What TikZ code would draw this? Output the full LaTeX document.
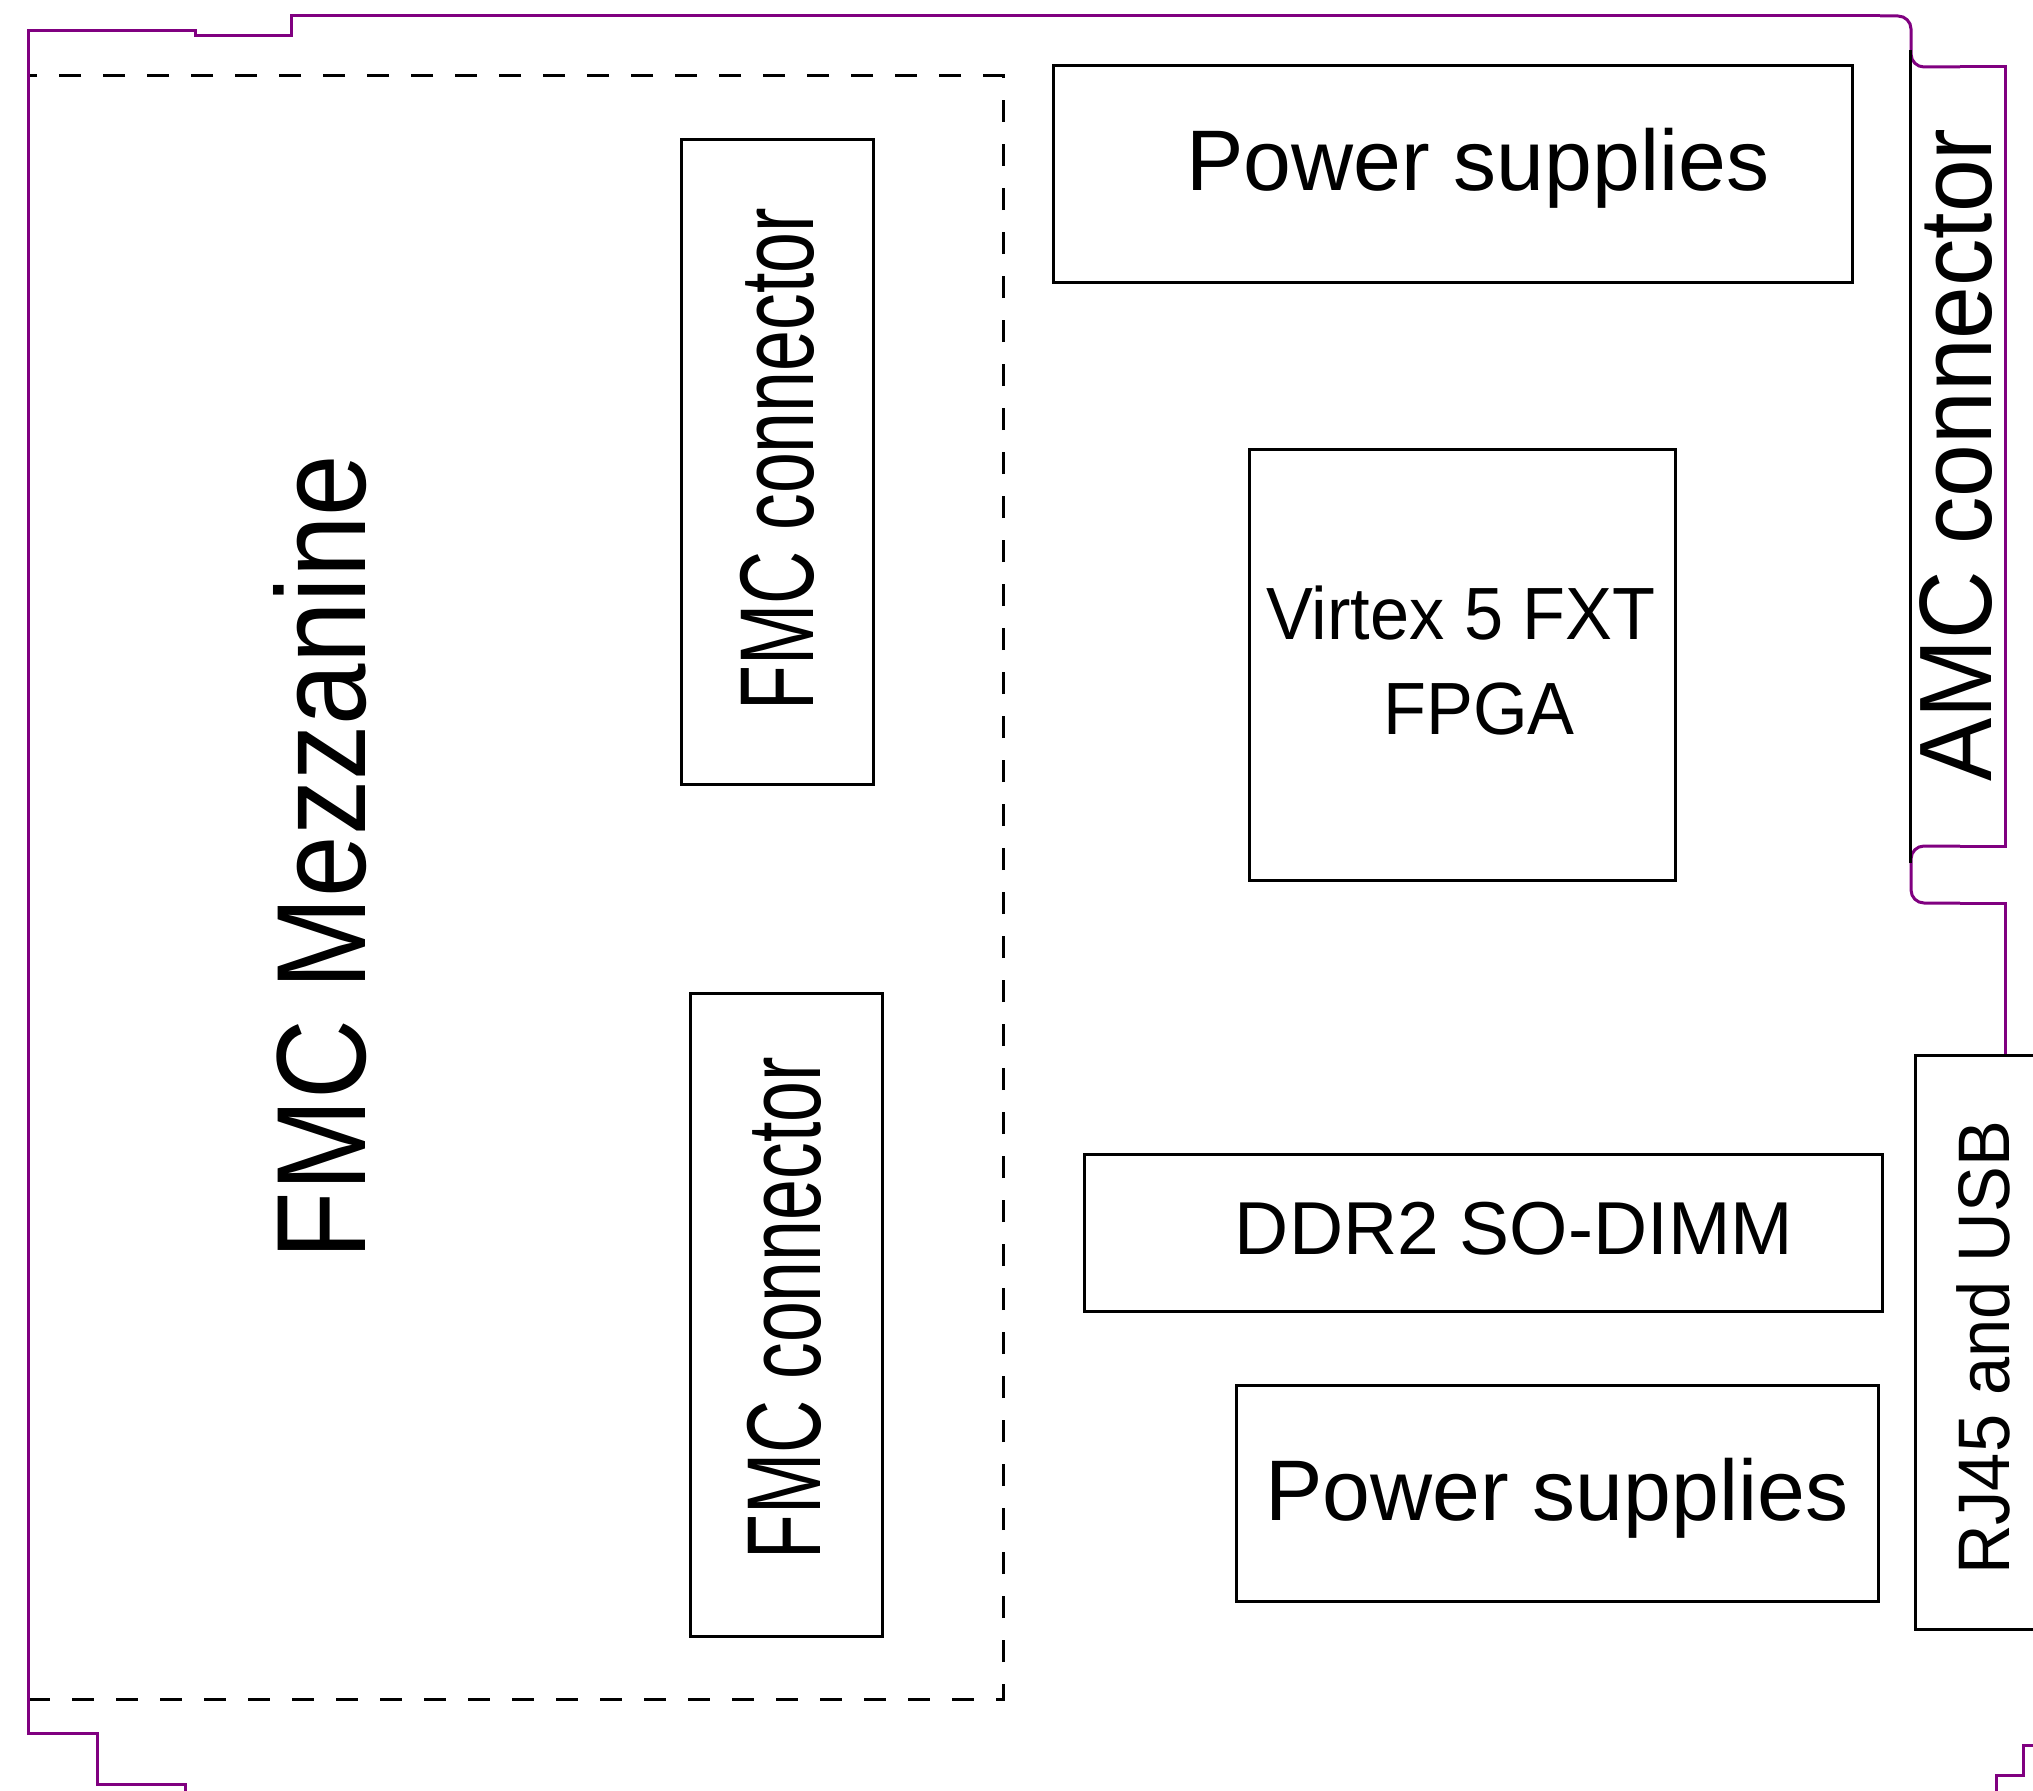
\documentclass[tikz,border=0pt]{standalone}
\usepackage{fontspec}
\setmainfont{Liberation Sans}
\usetikzlibrary{fit}
\definecolor{boardpurple}{RGB}{128,0,128}
\begin{document}
\begin{tikzpicture}[x=1pt,y=-1pt,
  box/.style={draw=black, line width=3pt, inner sep=0pt, outer sep=0pt, rectangle},
  areabox/.style={draw=black, line width=3pt, dash pattern=on 22pt off 22pt, inner sep=0pt, outer sep=0pt, rectangle},
  lbl/.style={inner sep=0pt, outer sep=0pt, anchor=base},
  vlbl/.style={inner sep=0pt, outer sep=0pt, anchor=base, rotate=90},
  outline/.style={draw=boardpurple, line width=3pt},
  edgeline/.style={draw=black, line width=3pt}]
\useasboundingbox (0,0) rectangle (2033,1790);
\fill[white] (0,0) rectangle (2033,1790);

% mezzanine area (dashed)
\node[areabox, fit={(28,76) (1003,1699)}] (mezzarea) {};

% board outline
\draw[outline] (185,1800) -- (185,1784) -- (97,1784) -- (97,1733) -- (28,1733) -- (28,31)
  -- (195,31) -- (195,36) -- (291,36) -- (291,16) -- (1880,16);
\draw[outline, rounded corners=13pt] (1880,16) -- (1911,16) -- (1911,67) -- (1960,67);
\draw[outline] (1960,67) -- (2005,67) -- (2005,846) -- (1960,846);
\draw[outline, rounded corners=13pt] (1960,846) -- (1911,846) -- (1911,903) -- (1960,903);
\draw[outline] (1960,903) -- (2005,903) -- (2005,1055);
\draw[outline] (2045,1745) -- (2023,1745) -- (2023,1775) -- (1996,1775) -- (1996,1800);

% AMC connector edge
\coordinate (amctop) at (1910,50);
\coordinate (amcbot) at (1910,863);
\draw[edgeline] (amctop) -- (amcbot);

% boxes
\node[box, fit={(1053,66) (1852,282)}] (psupper) {};
\node[box, fit={(681,140) (873,784)}] (fmcupper) {};
\node[box, fit={(690,993) (882,1636)}] (fmclower) {};
\node[box, fit={(1249,449) (1675,880)}] (fpga) {};
\node[box, fit={(1084,1154) (1882,1311)}] (ddr) {};
\node[box, fit={(1236,1385) (1878,1601)}] (pslower) {};
\node[box, fit={(1915,1055) (2070,1629)}] (rj) {};

% labels
\node[lbl, font=\fontsize{86}{100}\selectfont] (psupperlbl) at (1478,190) {Power supplies};
\node[lbl, font=\fontsize{86}{100}\selectfont] (pslowerlbl) at (1557,1520) {Power supplies};
\node[lbl, font=\fontsize{75}{90}\selectfont] (ddrlbl) at (1514,1254) {DDR2 SO-DIMM};
\node[lbl, font=\fontsize{74}{90}\selectfont] (fpgalbla) at (1461,639) {\scalebox{0.95}[1]{Virtex 5 FXT}};
\node[lbl, font=\fontsize{74}{90}\selectfont] (fpgalblb) at (1479,734) {\scalebox{0.95}[1]{FPGA}};
\node[vlbl, font=\fontsize{105}{120}\selectfont] (fmcupperlbl) at (813,459) {\scalebox{0.70}[1]{FMC connector}};
\node[vlbl, font=\fontsize{105}{120}\selectfont] (fmclowerlbl) at (820,1308) {\scalebox{0.70}[1]{FMC connector}};
\node[vlbl, font=\fontsize{127}{140}\selectfont] (mezzlbl) at (365,857) {\scalebox{0.87}[1]{FMC Mezzanine}};
\node[vlbl, font=\fontsize{103}{120}\selectfont] (amclbl) at (1991,455) {\scalebox{0.92}[1]{AMC connector}};
\node[vlbl, font=\fontsize{73}{90}\selectfont] (rjlbl) at (2009,1348) {\scalebox{0.94}[1]{RJ45 and USB}};
\end{tikzpicture}
\end{document}
